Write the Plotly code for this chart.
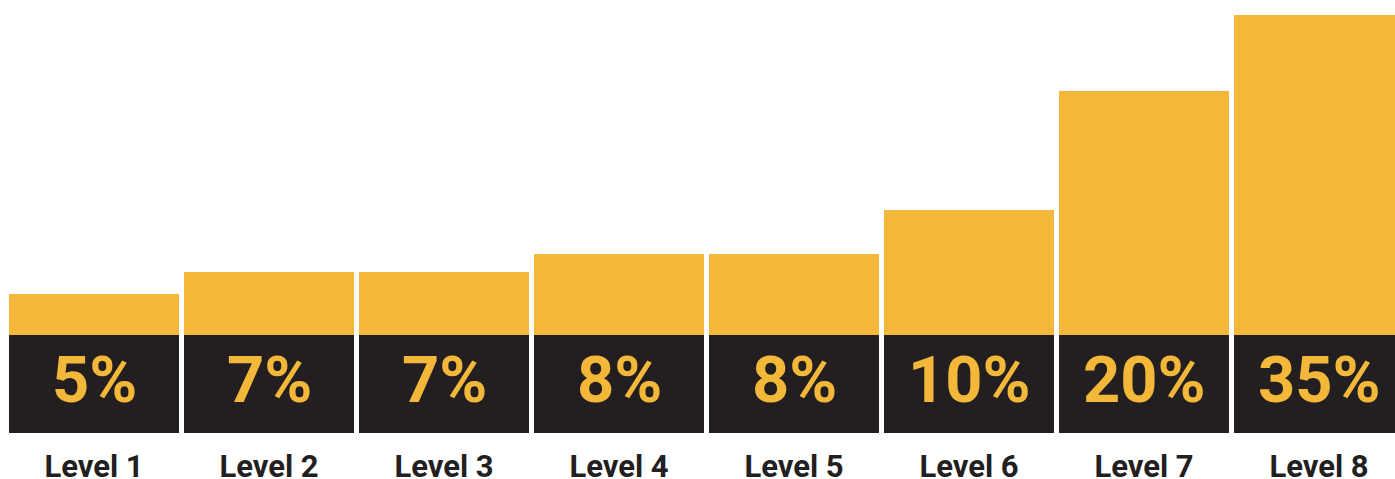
import plotly.graph_objects as go

levels = ["Level 1", "Level 2", "Level 3", "Level 4", "Level 5", "Level 6", "Level 7", "Level 8"]
percent = [5, 7, 7, 8, 8, 10, 20, 35]
# visual height of the yellow part of each bar (arbitrary units)
bar_height = [41, 63, 63, 81, 81, 125, 244, 320]

YELLOW = "#F3B83A"
DARK = "#231F20"
BAND = 98          # height of the dark label band
W, H = 1395, 479
MB = 46            # bottom margin
SLOT = 175.0
FIRST_CENTER = 94.0

xs = list(range(len(levels)))
bw = 170 / SLOT

fig = go.Figure()
fig.add_trace(go.Bar(
    x=xs, y=[BAND] * len(xs), width=bw,
    marker=dict(color=DARK, line=dict(width=0)),
    hoverinfo="skip", showlegend=False,
))
fig.add_trace(go.Bar(
    x=xs, y=bar_height, width=bw,
    marker=dict(color=YELLOW, line=dict(width=0)),
    hoverinfo="skip", showlegend=False,
))

for x, p in zip(xs, percent):
    fig.add_annotation(
        x=x, y=BAND / 2 + 4, xref="x", yref="y",
        text=f"{p}%", showarrow=False,
        xanchor="center", yanchor="middle",
        font=dict(family="Roboto", size=65, color=YELLOW, weight="bold"),
    )

plot_h = H - MB
fig.update_layout(
    width=W, height=H,
    margin=dict(l=0, r=0, t=0, b=MB, pad=0, autoexpand=False),
    barmode="stack",
    paper_bgcolor="white", plot_bgcolor="white",
    xaxis=dict(
        range=[-FIRST_CENTER / SLOT, (W - FIRST_CENTER) / SLOT],
        tickmode="array", tickvals=xs, ticktext=levels,
        tickfont=dict(family="Roboto", size=31, color=DARK, weight="bold"),
        showgrid=False, zeroline=False, showline=False, ticks="",
        ticklabelstandoff=12, automargin=False,
    ),
    yaxis=dict(range=[0, plot_h], visible=False, showgrid=False,
               zeroline=False, automargin=False),
)

fig.write_html(
    "out.html",
    config={"displayModeBar": False},
    post_script="document.body.style.margin='0';document.body.style.overflow='hidden';",
)
